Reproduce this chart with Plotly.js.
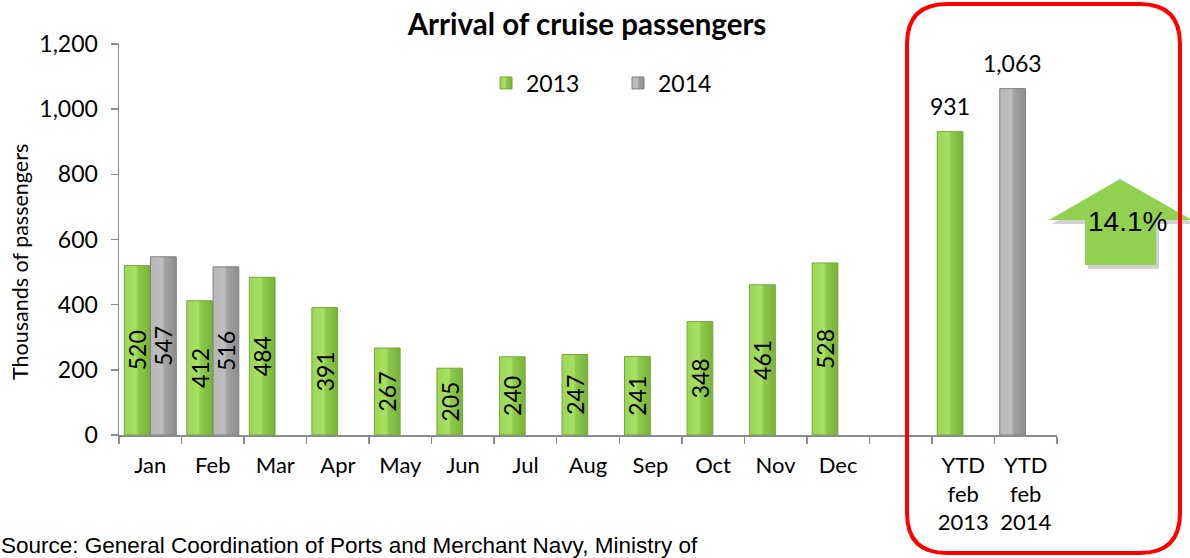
<!DOCTYPE html>
<html>
<head>
<meta charset="utf-8">
<script src="https://cdn.plot.ly/plotly-3.0.1.min.js"></script>
<style>html,body{margin:0;padding:0;background:#fff;}</style>
</head>
<body>
<div id="chart" style="width:1190px;height:558px;"></div>
<script>
// ---- data ----
const categories = ['Jan','Feb','Mar','Apr','May','Jun','Jul','Aug','Sep','Oct','Nov','Dec',' ','YTD<br>feb<br>2013','YTD<br>feb<br>2014'];
const months = ['Jan','Feb','Mar','Apr','May','Jun','Jul','Aug','Sep','Oct','Nov','Dec'];
const values2013 = [520,412,484,391,267,205,240,247,241,348,461,528];
const months2014 = ['Jan','Feb'];
const values2014 = [547,516];
const ytd2013Label = ['YTD<br>feb<br>2013'];
const ytd2013Value = [931];
const ytd2014Label = ['YTD<br>feb<br>2014'];
const ytd2014Value = [1063];
const changeText = '14.1%';
const titleText = 'Arrival of cruise passengers';
const yTitle = 'Thousands of passengers';
const sourceText = 'Source: General Coordination of Ports and Merchant Navy, Ministry of';

// ---- layout helpers (pixel -> paper) ----
const L0 = 119, W0 = 938, B0 = 435, H0 = 391;
const PX = x => (x - L0) / W0;
const PY = y => (B0 - y) / H0;

const FONT = 'Lato, "Open Sans", sans-serif';
const GREEN = '#92D050', GRAY = '#A6A6A6';

const inText = {
  type:'bar', textposition:'inside', insidetextanchor:'middle', textangle:-90,
  constraintext:'none', texttemplate:'%{y}', textfont:{family:FONT, size:23, color:'#000'},
  hoverinfo:'skip'
};

const data = [
  Object.assign({}, inText, {name:'2013', x:months, y:values2013, offsetgroup:'a',
    marker:{color:GREEN, line:{color:'#76A83C', width:1}}}),
  Object.assign({}, inText, {name:'2014', x:months2014, y:values2014, offsetgroup:'b',
    marker:{color:GRAY, line:{color:'#808080', width:1}}}),
  {type:'bar', name:'2013', x:ytd2013Label, y:ytd2013Value, offsetgroup:'a', showlegend:false,
    marker:{color:GREEN, line:{color:'#76A83C', width:1}}, textposition:'none', hoverinfo:'skip'},
  {type:'bar', name:'2014', x:ytd2014Label, y:ytd2014Value, offsetgroup:'a', showlegend:false,
    marker:{color:GRAY, line:{color:'#808080', width:1}}, textposition:'none', hoverinfo:'skip'}
];

// outside value labels for YTD bars (both bars sit in the left slot of their category)
const ytdAnn = [
  {x:ytd2013Label[0], y:ytd2013Value[0], text:ytd2013Value[0].toLocaleString('en-US')},
  {x:ytd2014Label[0], y:ytd2014Value[0], text:ytd2014Value[0].toLocaleString('en-US')}
].map(a => Object.assign(a, {xref:'x', yref:'y', xshift:-13, yanchor:'bottom', yshift:10, showarrow:false,
  font:{family:FONT, size:23, color:'#000'}}));

const r = 40, RL = 907, RR = 1180, RT = 4, RB = 553;
const rectPath = `M ${PX(RL+r)},${PY(RT)} L ${PX(RR-r)},${PY(RT)} Q ${PX(RR)},${PY(RT)} ${PX(RR)},${PY(RT+r)} `+
  `L ${PX(RR)},${PY(RB-r)} Q ${PX(RR)},${PY(RB)} ${PX(RR-r)},${PY(RB)} L ${PX(RL+r)},${PY(RB)} `+
  `Q ${PX(RL)},${PY(RB)} ${PX(RL)},${PY(RB-r)} L ${PX(RL)},${PY(RT+r)} Q ${PX(RL)},${PY(RT)} ${PX(RL+r)},${PY(RT)} Z`;

const arrowPts = [[1049,220],[1120,179],[1192,220],[1156,220],[1156,265],[1085,265],[1085,220]];
const mkPath = (pts, dx, dy) => 'M ' + pts.map(p => `${PX(p[0]+dx)},${PY(p[1]+dy)}`).join(' L ') + ' Z';

const layout = {
  width:1190, height:558,
  margin:{l:L0, r:1190-L0-W0, t:B0-H0, b:558-B0},
  paper_bgcolor:'#fff', plot_bgcolor:'#fff',
  font:{family:FONT, color:'#000'},
  barmode:'group', bargap:0.16, bargroupgap:0.02,
  showlegend:true,
  title:{text:'<b>'+titleText+'</b>', font:{family:FONT, size:29.5, color:'#000'},
    x:PX(587), xref:'paper', xanchor:'center', y:1-25/558, yref:'container', yanchor:'middle'},
  legend:{orientation:'h', x:PX(486), xanchor:'left', y:PY(83), yanchor:'middle',
    font:{family:FONT, size:23, color:'#000'}, entrywidth:87, entrywidthmode:'pixels',
    bgcolor:'rgba(0,0,0,0)'},
  xaxis:{type:'category', categoryorder:'array', categoryarray:categories, range:[-0.5,14.5],
    showline:true, linecolor:'#8C8C8C', linewidth:1.5, ticks:'outside', tickson:'boundaries',
    ticklen:7, tickcolor:'#8C8C8C', tickwidth:1.5, showgrid:false, zeroline:false,
    tickfont:{family:FONT, size:22, color:'#000'}, ticklabelstandoff:10, fixedrange:true},
  yaxis:{range:[0,1200], dtick:200, tickformat:',', showline:true, linecolor:'#8C8C8C', linewidth:1.5,
    ticks:'outside', ticklen:7, tickcolor:'#8C8C8C', tickwidth:1.5, showgrid:false, zeroline:false,
    tickfont:{family:FONT, size:23, color:'#000'}, ticklabelstandoff:8, fixedrange:true},
  annotations: ytdAnn.concat([
    {xref:'paper', yref:'paper', x:PX(20), y:PY(262), xanchor:'center', yanchor:'middle', showarrow:false,
      textangle:-90, text:yTitle, font:{family:FONT, size:21.5, color:'#000'}},
    {xref:'paper', yref:'paper', x:PX(1127), y:PY(222), xanchor:'center', yanchor:'middle', showarrow:false,
      text:changeText, font:{family:'"Liberation Sans", Arial, sans-serif', size:28, color:'#000'}},
    {xref:'paper', yref:'paper', x:PX(-1), y:PY(545), xanchor:'left', yanchor:'middle', showarrow:false,
      text:sourceText, font:{family:'"Liberation Sans", Arial, sans-serif', size:22.5, color:'#000'}}
  ]),
  shapes:[
    {type:'path', xref:'paper', yref:'paper', path:mkPath(arrowPts,3,4), fillcolor:'rgba(0,0,0,0.18)', line:{width:0}, layer:'above'},
    {type:'path', xref:'paper', yref:'paper', path:mkPath(arrowPts,0,0), fillcolor:'#92D050', line:{width:0}, layer:'above'},
    {type:'path', xref:'paper', yref:'paper', path:rectPath, fillcolor:'rgba(0,0,0,0)', line:{color:'#FF0000', width:4}, layer:'above'}
  ]
};

Plotly.newPlot('chart', data, layout, {displayModeBar:false, staticPlot:true}).then(gd => {
  const NS = 'http://www.w3.org/2000/svg';
  const defs = gd.querySelector('svg.main-svg defs');
  function grad(id, stops){
    const g = document.createElementNS(NS,'linearGradient');
    g.setAttribute('id', id); g.setAttribute('x1','0'); g.setAttribute('x2','1'); g.setAttribute('y1','0'); g.setAttribute('y2','0');
    stops.forEach(s => { const st = document.createElementNS(NS,'stop'); st.setAttribute('offset', s[0]); st.setAttribute('stop-color', s[1]); g.appendChild(st); });
    defs.appendChild(g);
  }
  grad('gGreen', [[0,'#9BD653'],[0.45,'#A8E065'],[0.55,'#8DC94B'],[1,'#7AB23A']]);
  grad('gGray', [[0,'#B8B8B8'],[0.45,'#BEBEBE'],[0.55,'#A3A3A3'],[1,'#8E8E8E']]);
  const fills = ['url(#gGreen)','url(#gGray)','url(#gGreen)','url(#gGray)'];
  gd.querySelectorAll('.barlayer .trace').forEach((t,i) => {
    t.querySelectorAll('.point path').forEach(p => { p.style.fill = fills[i]; });
  });
  gd.querySelectorAll('.legend .traces').forEach((t,i) => {
    t.querySelectorAll('.legendpoints path').forEach(p => { p.style.fill = fills[i]; });
  });
});
</script>
</body>
</html>
